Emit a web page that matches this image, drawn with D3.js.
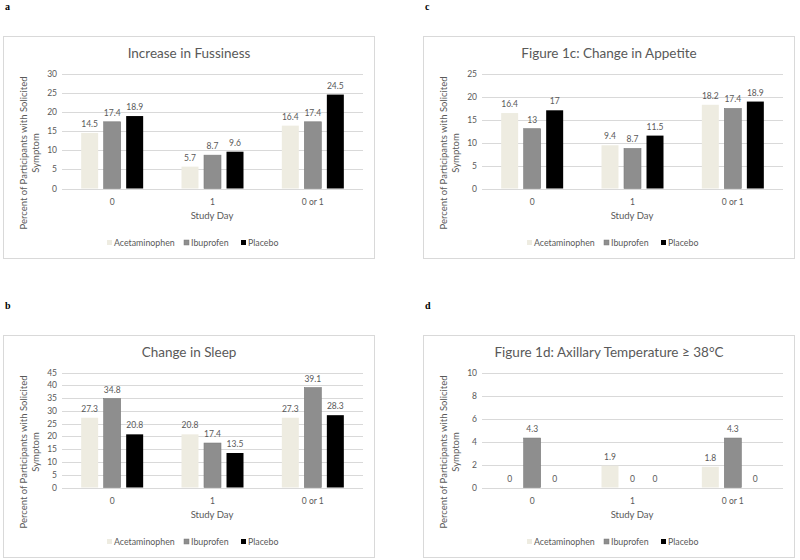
<!DOCTYPE html>
<html><head><meta charset="utf-8">
<script src="https://cdn.jsdelivr.net/npm/d3@7"></script>
<style>body{margin:0;background:#fff}svg{display:block}</style>
</head><body>
<svg id="chart" width="800" height="560"></svg>
<script>
const categories = ["0", "1", "0 or 1"];
const seriesNames = ["Acetaminophen", "Ibuprofen", "Placebo"];
const seriesColors = ["#eeece1", "#8e8e8e", "#000000"];

const fussAcet = [14.5, 5.7, 16.4];
const fussIbu = [17.4, 8.7, 17.4];
const fussPlac = [18.9, 9.6, 24.5];
const fussTicks = [0, 5, 10, 15, 20, 25, 30];

const sleepAcet = [27.3, 20.8, 27.3];
const sleepIbu = [34.8, 17.4, 39.1];
const sleepPlac = [20.8, 13.5, 28.3];
const sleepTicks = [0, 5, 10, 15, 20, 25, 30, 35, 40, 45];

const appAcet = [16.4, 9.4, 18.2];
const appIbu = [13, 8.7, 17.4];
const appPlac = [17, 11.5, 18.9];
const appTicks = [0, 5, 10, 15, 20, 25];

const tempAcet = [0, 1.9, 1.8];
const tempIbu = [4.3, 0, 4.3];
const tempPlac = [0, 0, 0];
const tempTicks = [0, 2, 4, 6, 8, 10];

const panelLetters = ["a", "c", "b", "d"];
const panelTitles = ["Increase in Fussiness", "Figure 1c: Change in Appetite", "Change in Sleep", "Figure 1d: Axillary Temperature \u2265 38\u00B0C"];

const svg = d3.select("#chart");
const FONT = "Lato, 'Open Sans', sans-serif";
const TXT = "#595959";

function panel(bx, by, letter, title, series, ticks) {
  const g = svg.append("g");
  g.append("text").attr("x", bx + 2).attr("y", by - 26).text(letter)
    .attr("font-family", "'Liberation Serif', 'DejaVu Serif', serif").attr("font-weight", "bold")
    .attr("font-size", 10).attr("fill", "#000");
  const W = 371, H = 222;
  g.append("rect").attr("x", bx + 0.5).attr("y", by + 0.5).attr("width", W).attr("height", H)
    .attr("fill", "#fff").attr("stroke", "#d9d9d9");
  g.append("text").attr("x", bx + 186).attr("y", by + 22).attr("text-anchor", "middle")
    .attr("font-family", FONT).attr("font-size", 13.5).attr("fill", TXT).text(title);

  const left = bx + 59, right = bx + 360, top = by + 37.5, bottom = by + 152.5;
  const y = d3.scaleLinear().domain([0, d3.max(ticks)]).range([bottom, top]);
  const x0 = d3.scaleBand().domain(categories).range([left, right]);
  const bw = x0.bandwidth();
  const x1 = d3.scaleBand().domain(seriesNames).range([bw / 2 - 31, bw / 2 + 31]).paddingInner(0.245);

  g.append("g").selectAll("line").data(ticks).join("line")
    .attr("x1", left).attr("x2", right)
    .attr("y1", d => Math.round(y(d)) + 0.5).attr("y2", d => Math.round(y(d)) + 0.5)
    .attr("stroke", "#d9d9d9").attr("stroke-width", 1);
  g.append("g").selectAll("text").data(ticks).join("text")
    .attr("x", left - 5).attr("y", d => y(d) + 3).attr("text-anchor", "end")
    .attr("font-family", FONT).attr("font-size", 8.5).attr("fill", TXT).text(d => d);

  const flat = [];
  categories.forEach((c, i) => seriesNames.forEach((s, j) => flat.push({ c, s, j, v: series[j][i] })));
  g.append("g").selectAll("rect").data(flat).join("rect")
    .attr("x", d => x0(d.c) + x1(d.s)).attr("width", x1.bandwidth())
    .attr("y", d => y(d.v)).attr("height", d => y(0) - y(d.v))
    .attr("fill", d => seriesColors[d.j])
    .attr("stroke", d => d.j === 1 ? "#7a7a7a" : "none").attr("stroke-width", 0.6);
  g.append("g").selectAll("text").data(flat).join("text")
    .attr("x", d => x0(d.c) + x1(d.s) + x1.bandwidth() / 2).attr("y", d => y(d.v) - 6)
    .attr("text-anchor", "middle").attr("font-family", FONT).attr("font-size", 8.5).attr("fill", TXT)
    .text(d => d.v);

  g.append("g").selectAll("text").data(categories).join("text")
    .attr("x", d => x0(d) + bw / 2).attr("y", by + 168.5).attr("text-anchor", "middle")
    .attr("font-family", FONT).attr("font-size", 8.5).attr("fill", TXT).text(d => d);
  g.append("text").attr("x", left + 150).attr("y", by + 183).attr("text-anchor", "middle")
    .attr("font-family", FONT).attr("font-size", 9.5).attr("fill", TXT).text("Study Day");

  const yc = by + 117;
  g.append("text").attr("transform", `translate(${bx + 24},${yc}) rotate(-90)`).attr("text-anchor", "middle")
    .attr("font-family", FONT).attr("font-size", 9.5).attr("fill", TXT).text("Percent of Participants with Solicited");
  g.append("text").attr("transform", `translate(${bx + 35.5},${yc}) rotate(-90)`).attr("text-anchor", "middle")
    .attr("font-family", FONT).attr("font-size", 9.5).attr("fill", TXT).text("Symptom");

  const legX = [bx + 104, bx + 181, bx + 238];
  const leg = g.append("g").selectAll("g").data(seriesNames).join("g");
  leg.append("rect").attr("x", (d, i) => legX[i]).attr("y", by + 204).attr("width", 5).attr("height", 5)
    .attr("fill", (d, i) => seriesColors[i]).attr("stroke", (d, i) => i === 1 ? "#7a7a7a" : "none").attr("stroke-width", 0.5);
  leg.append("text").attr("x", (d, i) => legX[i] + 7).attr("y", by + 209.5)
    .attr("font-family", FONT).attr("font-size", 8.8).attr("fill", TXT).text(d => d);
}

panel(3, 36, panelLetters[0], panelTitles[0], [fussAcet, fussIbu, fussPlac], fussTicks);
panel(423, 36, panelLetters[1], panelTitles[1], [appAcet, appIbu, appPlac], appTicks);
panel(3, 335, panelLetters[2], panelTitles[2], [sleepAcet, sleepIbu, sleepPlac], sleepTicks);
panel(423, 335, panelLetters[3], panelTitles[3], [tempAcet, tempIbu, tempPlac], tempTicks);
</script>
</body></html>
